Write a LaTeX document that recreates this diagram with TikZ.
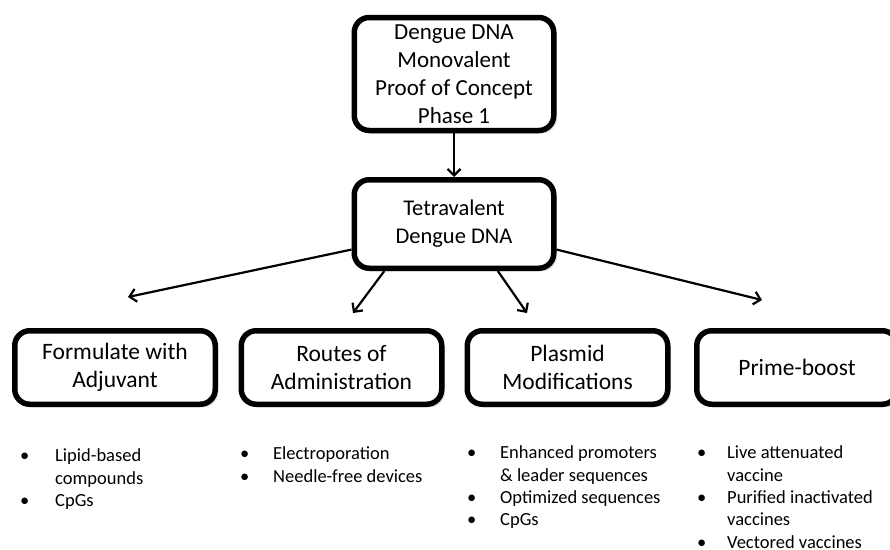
\documentclass[tikz,border=0pt]{standalone}
\usepackage{fontspec}
\setmainfont{Carlito}
\usetikzlibrary{arrows.meta,shadows,calc,positioning}
\tikzset{
  box/.style={draw, line width=5.5pt, rounded corners=15pt, fill=white, align=center, inner sep=2pt,
    drop shadow={opacity=0.25, shadow xshift=3pt, shadow yshift=-3pt}},
  arr/.style={line width=2.2pt, -{Straight Barb[length=6.5pt,width=13pt,line width=2.2pt]}},
  list/.style={anchor=north west, inner sep=0pt, font=\fontsize{18.5}{22.3}\selectfont}
}
\newcommand{\blist}[2]{\begin{tabular}{@{}p{#1pt}@{}l@{}}#2\end{tabular}}

\begin{document}
\begin{tikzpicture}[x=1pt,y=-1pt,line join=round]
		\path[use as bounding box,clip] (0,0) rectangle (890,549);
		\fill[white] (0,0) rectangle (890,549);
		% top of the chain
		\node[box, minimum width=199.5pt, minimum height=113pt, font=\fontsize{23}{28}\selectfont] (mono) at (454,74)
			{Dengue DNA\\Monovalent\\Proof of Concept\\Phase 1};
		\node[box, minimum width=199.5pt, minimum height=88.5pt, font=\fontsize{22.5}{28}\selectfont] (tetra) at (454,224)
			{Tetravalent\\Dengue DNA};
		\draw[arr] (mono) -- (tetra);
		% four strategies
		\foreach \n/\x/\t in {form/115/{Formulate with\\Adjuvant}, route/341.5/{Routes of\\Administration},
			plas/567.5/{Plasmid\\Modifications}, prime/797/{Prime-boost}}
			{\node[box, minimum width=200.5pt, minimum height=73.5pt, font=\fontsize{23.5}{28}\selectfont] (\n) at (\x,367.5) {\t};}
		\coordinate (e1) at (128,297);
		\coordinate (e2) at (353,313);
		\coordinate (e3) at (527,313);
		\coordinate (e4) at (762,300);
		\foreach \a/\e in {-166/e1,-146/e2,-47/e3,-14/e4}{\draw[arr] (tetra.\a) -- (\e);}
		% bullet lists
		\node[list] (l1) at (20,446) {\blist{35}{•&Lipid-based\\&compounds\\•&CpGs}};
		\node[list] (l2) at (240,444) {\blist{33}{•&Electroporation\\•&Needle-free devices}};
		\node[list] (l3) at (467,443) {\blist{33}{•&Enhanced promoters\\&\& leader sequences\\•&Optimized sequences\\•&CpGs}};
		\node[list] (l4) at (697,443) {\blist{30}{•&Live attenuated\\&vaccine\\•&Purified inactivated\\&vaccines\\•&Vectored vaccines}};
\end{tikzpicture}
\end{document}
